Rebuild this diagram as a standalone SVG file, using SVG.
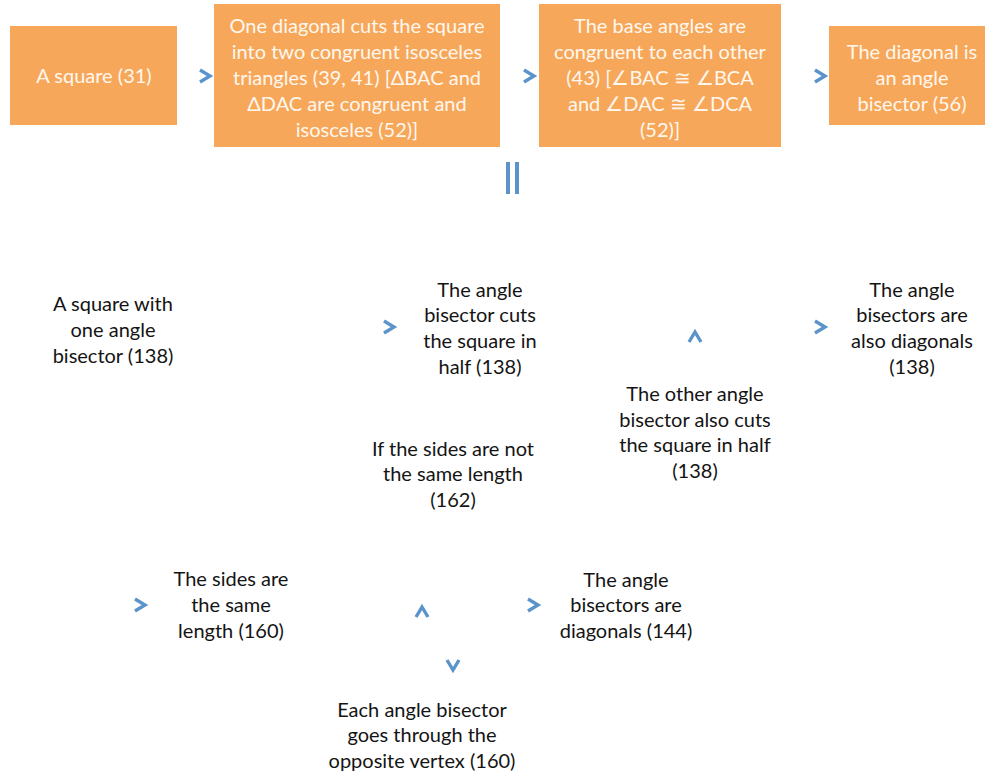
<svg xmlns="http://www.w3.org/2000/svg" width="985" height="774" viewBox="0 0 985 774">
<defs>
<style>
.box{fill:#F7A75A}
.bt{font-family:Lato,"Open Sans","Liberation Sans",sans-serif;font-size:20px;fill:#FFF7EE;text-anchor:middle}
.t{font-family:Lato,"Open Sans","Liberation Sans",sans-serif;font-size:20px;fill:#141414;text-anchor:middle}
.chev{fill:none;stroke:#5B93CB;stroke-width:3.4;stroke-linecap:butt;stroke-linejoin:miter}
.bar{fill:#5B93CB}
</style>
<path id="r" d="M-5,-6 L5,0 L-5,6"/>
<path id="u" d="M-6,5 L0,-5 L6,5"/>
<path id="d" d="M-6,-5 L0,5 L6,-5"/>
</defs>
<rect width="985" height="774" fill="#ffffff"/>

<g id="n1"><rect class="box" x="10" y="26" width="167" height="99"/>
<text class="bt" x="94" y="83">A square (31)</text></g>
<g id="n2"><rect class="box" x="214" y="4" width="286" height="143"/>
<text class="bt"><tspan x="357" y="33">One diagonal cuts the square</tspan><tspan x="357" y="59">into two congruent isosceles</tspan><tspan x="357" y="85">triangles (39, 41) [ΔBAC and</tspan><tspan x="357" y="111">ΔDAC are congruent and</tspan><tspan x="357" y="137">isosceles (52)]</tspan></text></g>
<g id="n3"><rect class="box" x="539" y="4" width="242" height="143"/>
<text class="bt"><tspan x="660" y="33">The base angles are</tspan><tspan x="660" y="59">congruent to each other</tspan><tspan x="660" y="85">(43) [∠BAC ≅ ∠BCA</tspan><tspan x="660" y="111">and ∠DAC ≅ ∠DCA</tspan><tspan x="660" y="137">(52)]</tspan></text></g>
<g id="n4"><rect class="box" x="829" y="26" width="156" height="99"/>
<text class="bt"><tspan x="912" y="59">The diagonal is</tspan><tspan x="912" y="85">an angle</tspan><tspan x="912" y="111">bisector (56)</tspan></text></g>

<g id="n5"><text class="t"><tspan x="113" y="311">A square with</tspan><tspan x="113" y="337">one angle</tspan><tspan x="113" y="363">bisector (138)</tspan></text></g>
<g id="n6"><text class="t"><tspan x="480" y="297">The angle</tspan><tspan x="480" y="322">bisector cuts</tspan><tspan x="480" y="348">the square in</tspan><tspan x="480" y="374">half (138)</tspan></text></g>
<g id="n7"><text class="t"><tspan x="695" y="401">The other angle</tspan><tspan x="695" y="427">bisector also cuts</tspan><tspan x="695" y="452">the square in half</tspan><tspan x="695" y="478">(138)</tspan></text></g>
<g id="n8"><text class="t"><tspan x="912" y="297">The angle</tspan><tspan x="912" y="322">bisectors are</tspan><tspan x="912" y="348">also diagonals</tspan><tspan x="912" y="374">(138)</tspan></text></g>
<g id="n9"><text class="t"><tspan x="453" y="456">If the sides are not</tspan><tspan x="453" y="481">the same length</tspan><tspan x="453" y="507">(162)</tspan></text></g>
<g id="n10"><text class="t"><tspan x="231" y="586">The sides are</tspan><tspan x="231" y="612">the same</tspan><tspan x="231" y="638">length (160)</tspan></text></g>
<g id="n11"><text class="t"><tspan x="626" y="587">The angle</tspan><tspan x="626" y="612">bisectors are</tspan><tspan x="626" y="638">diagonals (144)</tspan></text></g>
<g id="n12"><text class="t"><tspan x="422" y="717">Each angle bisector</tspan><tspan x="422" y="742">goes through the</tspan><tspan x="422" y="768">opposite vertex (160)</tspan></text></g>

<g id="connectors">
<use href="#r" class="chev" x="205" y="76"/>
<use href="#r" class="chev" x="529" y="76"/>
<use href="#r" class="chev" x="820" y="76"/>
<rect class="bar" x="506" y="162" width="4" height="32"/>
<rect class="bar" x="515" y="162" width="4" height="32"/>
<use href="#r" class="chev" x="389" y="327"/>
<use href="#u" class="chev" x="695" y="337"/>
<use href="#r" class="chev" x="820" y="327"/>
<use href="#r" class="chev" x="140" y="605"/>
<use href="#u" class="chev" x="422" y="612"/>
<use href="#d" class="chev" x="453" y="665"/>
<use href="#r" class="chev" x="533" y="605"/>
</g>
</svg>
